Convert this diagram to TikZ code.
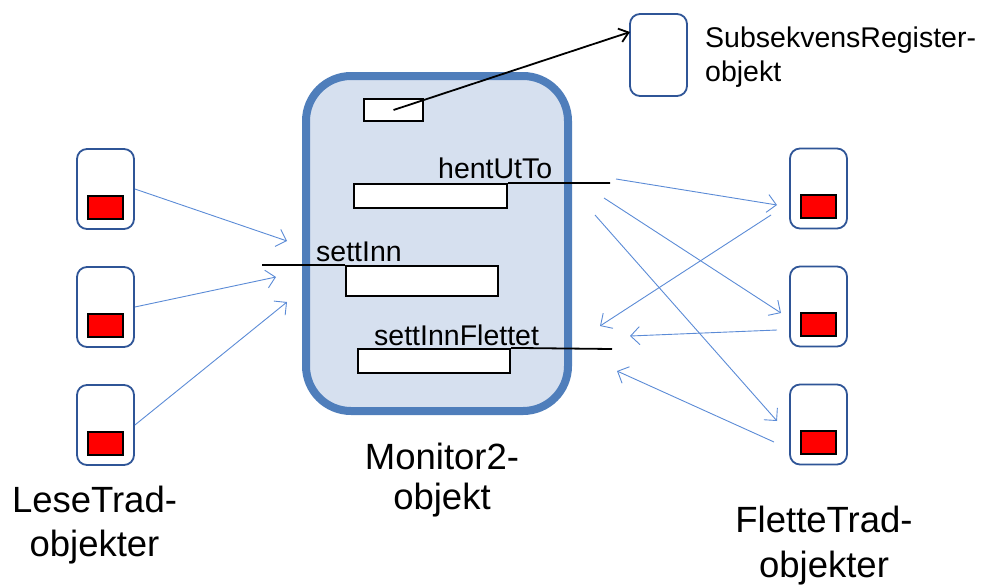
\documentclass[tikz,border=0pt]{standalone}
\usepackage{fontspec}
\setmainfont{Liberation Sans}
\usetikzlibrary{arrows.meta}
\definecolor{monline}{HTML}{4F7EBB}
\definecolor{monfill}{HTML}{D6E0EF}
\definecolor{objline}{HTML}{2F5597}
\definecolor{arr}{HTML}{5B8BD6}
\tikzset{
  obj/.style={draw=objline, line width=1.8pt, rounded corners=10pt, fill=white, minimum width=57pt, minimum height=80pt, inner sep=0pt},
  redbox/.style={draw=black, line width=2pt, fill=red, minimum width=35pt, minimum height=23pt, inner sep=0pt},
  method/.style={draw=black, line width=2.2pt, fill=white, inner sep=0pt},
  mline/.style={draw=black, line width=1.8pt},
  msg/.style={draw=arr, line width=0.9pt, -{Straight Barb[length=9pt,width=18pt,line width=0.9pt]}},
  lbl/.style={font=\fontsize{28.5}{34}\selectfont, inner sep=0pt},
  big/.style={font=\fontsize{36.5}{44}\selectfont, inner sep=0pt},
}
\begin{document}
\begin{tikzpicture}[x=1pt,y=-1pt]
\useasboundingbox (0,0) rectangle (985,584);
% monitor
\node[draw=monline, line width=8pt, fill=monfill, rounded corners=45pt, minimum width=262pt, minimum height=335pt, inner sep=0pt] (mon) at (437,243.5) {};
\node[method, minimum width=59pt, minimum height=22pt] (reg) at (393.5,110) {};
\node[method, minimum width=153pt, minimum height=24pt] (hent) at (430.5,196) {};
\node[method, minimum width=152pt, minimum height=30pt] (sett) at (422,281) {};
\node[method, minimum width=152pt, minimum height=24pt] (fl) at (434,361) {};
% method labels
\node[lbl, anchor=base west] (thent) at (438,178) {hentUtTo};
\node[lbl, anchor=base west] (tsett) at (316,261) {settInn};
\node[lbl, anchor=base west] (tfl) at (374,345) {settInnFlettet};
% method lines
\coordinate (hentend) at (610,183);
\coordinate (settend) at (262,265);
\coordinate (flend) at (612,349);
\draw[mline] (hent.north east) -- (hentend);
\draw[mline] (settend) -- (sett.north west);
\draw[mline] (fl.north east) -- (flend);
% subsekvens register object
\node[obj, minimum height=82pt] (sub) at (658.5,55) {};
\node[lbl, anchor=base west] (tsub1) at (705,47) {SubsekvensRegister-};
\node[lbl, anchor=base west] (tsub2) at (705,81) {objekt};
\coordinate (subin) at (630,32);
\draw[line width=1.8pt, -{Straight Barb[length=9pt,width=14pt,line width=1.8pt]}] (reg.center) -- (subin);
% left objects
\foreach \i/\y in {1/189,2/307,3/425}{
  \node[obj] (l\i) at (105.5,\y) {};
  \node[redbox] (lr\i) at (105.5,\y+18) {};
}
% right objects
\foreach \i/\y in {1/188.5,2/306.5,3/424.5}{
  \node[obj] (r\i) at (818.5,\y) {};
  \node[redbox] (rr\i) at (818.5,\y+17.5) {};
}
% left arrows
\coordinate (la1) at (287,241);
\coordinate (la2) at (276,277);
\coordinate (la3) at (287,302);
\draw[msg] (l1.east) -- (la1);
\draw[msg] (l2.east) -- (la2);
\draw[msg] (l3.east) -- (la3);
% right arrows
\coordinate (sa) at (616,179);
\coordinate (sb) at (604,198);
\coordinate (sc) at (595,215);
\coordinate (ea) at (777,205);
\coordinate (eb) at (781,313);
\coordinate (ec) at (777,421);
\draw[msg] (sa) -- (ea);
\draw[msg] (sb) -- (eb);
\draw[msg] (sc) -- (ec);
\coordinate (sd) at (771,215);
\coordinate (se) at (777,330);
\coordinate (sf) at (774,442);
\coordinate (ed) at (600,326);
\coordinate (ee) at (630,336);
\coordinate (ef) at (617,371);
\draw[msg] (sd) -- (ed);
\draw[msg] (se) -- (ee);
\draw[msg] (sf) -- (ef);
% big labels
\node[big, anchor=base] (tm1) at (442,469) {Monitor2-};
\node[big, anchor=base] (tm2) at (442,509) {objekt};
\node[big, anchor=base] (tl1) at (94.5,512) {LeseTrad-};
\node[big, anchor=base] (tl2) at (94.5,556) {objekter};
\node[big, anchor=base] (tr1) at (824,532) {FletteTrad-};
\node[big, anchor=base] (tr2) at (824,577) {objekter};
\end{tikzpicture}
\end{document}
